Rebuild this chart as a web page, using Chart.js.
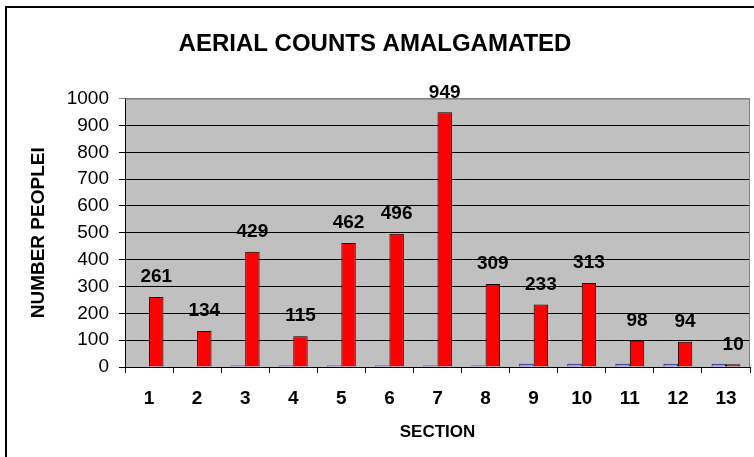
<!DOCTYPE html>
<html>
<head>
<meta charset="utf-8">
<script src="https://cdn.jsdelivr.net/npm/chart.js@4/dist/chart.umd.min.js"></script>
<style>
  html, body { margin: 0; padding: 0; background: #fff; overflow: hidden; }
  #wrap { position: relative; width: 754px; height: 457px; }
  #frame { position: absolute; left: 5px; top: 6px; width: 800px; height: 500px; border: 2px solid #000; box-sizing: border-box; pointer-events: none; }
  canvas { position: absolute; left: 0; top: 0; }
</style>
</head>
<body>
<div id="wrap">
  <canvas id="c" width="754" height="457"></canvas>
  <div id="frame"></div>
</div>
<script>
const sections = ['1','2','3','4','5','6','7','8','9','10','11','12','13'];
const blueSeries = [0, 0, 6, 6, 6, 6, 6, 6, 12, 12, 12, 12, 12];
const redSeries = [261, 134, 429, 115, 462, 496, 949, 309, 233, 313, 98, 94, 10];
const yTicks = [0, 100, 200, 300, 400, 500, 600, 700, 800, 900, 1000];
const titleText = 'AERIAL COUNTS AMALGAMATED';
const xTitle = 'SECTION';
const yTitle = 'NUMBER PEOPLEI';

const FONT = "'Liberation Sans', Arial, sans-serif";

const plotBg = {
  id: 'plotBg',
  beforeDraw(chart) {
    const {ctx, chartArea: a} = chart;
    ctx.save();
    ctx.fillStyle = '#C0C0C0';
    ctx.fillRect(a.left, a.top, a.right - a.left, a.bottom - a.top);
    ctx.restore();
  },
  afterDraw(chart) {
    const {ctx, chartArea: a} = chart;
    ctx.save();
    ctx.strokeStyle = '#808080';
    ctx.lineWidth = 1;
    ctx.beginPath();
    ctx.moveTo(a.left, a.top + 0.5);
    ctx.lineTo(a.right - 0.5, a.top + 0.5);
    ctx.lineTo(a.right - 0.5, a.bottom);
    ctx.stroke();
    ctx.restore();
  }
};

const valueLabels = {
  id: 'valueLabels',
  afterDatasetsDraw(chart) {
    const {ctx} = chart;
    const meta = chart.getDatasetMeta(1);
    ctx.save();
    ctx.font = "bold 19px " + FONT;
    ctx.fillStyle = '#000';
    ctx.textAlign = 'center';
    ctx.textBaseline = 'middle';
    meta.data.forEach((bar, i) => {
      ctx.fillText(String(redSeries[i]), bar.x, bar.y - 20);
    });
    ctx.restore();
  }
};

new Chart(document.getElementById('c'), {
  type: 'bar',
  data: {
    labels: sections,
    datasets: [
      {
        label: 'Series 1',
        data: blueSeries,
        backgroundColor: '#9999FF',
        borderColor: '#000080',
        borderWidth: 1,
        borderSkipped: 'bottom',
        barPercentage: 1.0,
        categoryPercentage: 0.6
      },
      {
        label: 'Series 2',
        data: redSeries,
        backgroundColor: '#FF0000',
        borderColor: '#000000',
        borderWidth: 1,
        borderSkipped: 'bottom',
        barPercentage: 1.0,
        categoryPercentage: 0.6
      }
    ]
  },
  options: {
    responsive: false,
    animation: false,
    layout: { padding: { left: 0, right: 4, top: 0, bottom: 0 } },
    plugins: {
      legend: { display: false },
      tooltip: { enabled: false },
      title: {
        display: true,
        text: titleText,
        color: '#000',
        font: { family: FONT, size: 24, weight: 'bold', lineHeight: 1.15 },
        padding: { top: 31, bottom: 40 }
      }
    },
    scales: {
      x: {
        offset: true,
        grid: {
          offset: true,
          drawOnChartArea: false,
          drawTicks: true,
          tickLength: 6,
          color: '#000',
          lineWidth: 1
        },
        border: { display: true, color: '#000', width: 1 },
        ticks: {
          color: '#000',
          font: { family: FONT, size: 19, weight: 'bold' },
          padding: 14,
          maxRotation: 0,
          autoSkip: false
        },
        title: {
          display: true,
          text: xTitle,
          color: '#000',
          font: { family: FONT, size: 17, weight: 'bold', lineHeight: 1.2 },
          padding: { top: 0, bottom: 14 }
        },
        afterFit(scale) { scale.height = 90; }
      },
      y: {
        min: 0,
        max: 1000,
        afterBuildTicks(scale) { scale.ticks = yTicks.map(v => ({ value: v })); },
        grid: {
          drawOnChartArea: true,
          drawTicks: true,
          tickLength: 6,
          color: (c) => (c.tick && c.tick.value === 1000) ? '#808080' : '#000',
          lineWidth: 1
        },
        border: { display: true, color: '#000', width: 1 },
        ticks: {
          color: '#000',
          font: { family: FONT, size: 19 },
          padding: 10,
          callback: (v) => String(v)
        },
        title: {
          display: true,
          text: yTitle,
          color: '#000',
          font: { family: FONT, size: 19, weight: 'bold', lineHeight: 1.2 },
          padding: { top: 27, bottom: 0 }
        },
        afterFit(scale) { scale.width = 125; }
      }
    }
  },
  plugins: [plotBg, valueLabels]
});
</script>
</body>
</html>
